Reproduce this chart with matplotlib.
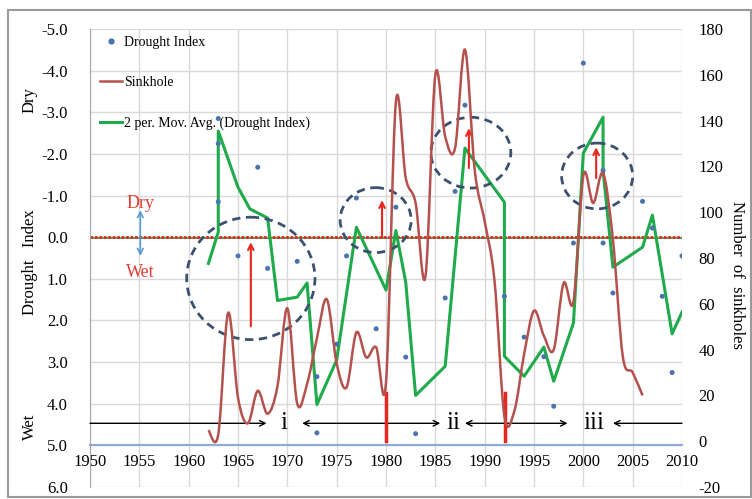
import numpy as np
import matplotlib.pyplot as plt
from matplotlib.patches import Ellipse, Rectangle, PathPatch
from matplotlib.path import Path
from matplotlib.lines import Line2D

plt.rcParams['font.family'] = ['Liberation Serif', 'DejaVu Serif']

# drought index values (scatter points)
di_years = [1963, 1963, 1963, 1965, 1967, 1968, 1971, 1973, 1973, 1975, 1976, 1977,
            1979, 1981, 1982, 1983, 1986, 1987, 1988, 1992, 1994, 1996, 1997, 1999,
            2000, 2002, 2002, 2003, 2006, 2007, 2008, 2009, 2010]
di_values = [-2.85, -2.25, -0.85, 0.45, -1.68, 0.75, 0.58, 3.35, 4.7, 2.57, 0.45, -0.94,
             2.2, -0.72, 2.88, 4.72, 1.46, -1.1, -3.17, 1.42, 2.4, 2.87, 4.06, 0.14,
             -4.18, 0.14, -1.6, 1.34, -0.86, -0.22, 1.42, 3.25, 0.45]

# 2 period moving average as drawn
ma_years = [1962, 1963, 1963, 1965, 1966.2, 1968, 1969, 1971, 1972, 1973, 1975, 1977,
            1980, 1981, 1982, 1983, 1986, 1988, 1992, 1992, 1994, 1996, 1997, 1999,
            2000, 2002, 2002, 2003, 2006, 2007, 2009, 2010]
ma_values = [0.63, -0.12, -2.55, -1.2, -0.68, -0.46, 1.52, 1.44, 1.1, 4.02, 2.95, -0.24,
             1.27, -0.16, 1.08, 3.8, 3.1, -2.14, -0.84, 2.86, 3.34, 2.64, 3.46, 2.06,
             -2.02, -2.88, -1.6, 0.72, 0.24, -0.53, 2.32, 1.8]

# number of sinkholes per year
sink_years = list(range(1962, 2007))
sink_counts = [4.8, 3, 56, 19, 7.8, 22, 12, 24, 58, 16.5, 25, 45, 62, 34, 23.5, 47.5,
               36.6, 41, 25.7, 148, 115, 104, 72, 160, 133, 128, 171, 118, 96, 70, 11,
               13, 38, 57, 46, 40, 69, 61, 116, 104, 117, 88, 37, 30, 20]

left_ticks = np.arange(-5, 7, 1)
right_ticks = np.arange(-20, 181, 20)
year_ticks = np.arange(1950, 2011, 5)

RED = '#e8261e'
GREEN = '#1faa4b'
SINK = '#b5514d'
DOT = '#4a74b0'
ELL = '#3c5170'


def smooth_path(xs, ys):
    # smoothed line like excel (catmull-rom as bezier curves)
    pts = np.column_stack([xs, ys]).astype(float)
    p = np.vstack([pts[0], pts, pts[-1]])
    verts = [pts[0]]
    codes = [Path.MOVETO]
    for i in range(1, len(p) - 2):
        c1 = p[i] + (p[i + 1] - p[i - 1]) / 6
        c2 = p[i + 1] - (p[i + 2] - p[i]) / 6
        verts += [c1, c2, p[i + 1]]
        codes += [Path.CURVE4] * 3
    return Path(verts, codes)


fig = plt.figure(figsize=(7.52, 4.99), dpi=100)
ax = fig.add_axes([90 / 752, 12 / 499, 592 / 752, 458 / 499])

# x axis crosses at 5.0 (set before the ticks, it resets them)
ax.spines['bottom'].set_position(('data', 5.0))
ax.spines['bottom'].set_color('#8eaadb')
ax.spines['bottom'].set_linewidth(1.5)
ax.spines['left'].set_color('#a6a6a6')
ax.spines['top'].set_visible(False)
ax.spines['right'].set_visible(False)

ax.set_xlim(1950, 2010)
ax.set_ylim(6, -5)
ax.set_xticks(year_ticks)
ax.set_xticklabels([str(y) for y in year_ticks])
ax.set_yticks(left_ticks)
ax.set_yticklabels([f'{v:.1f}' for v in left_ticks])
ax.grid(color='#d9d9d9', lw=1)
ax.set_axisbelow(True)
ax.tick_params(length=0, labelsize=12)
ax.tick_params(axis='y', pad=16)
ax.tick_params(axis='x', pad=6)

# zero line
ax.axhline(0.03, color=GREEN, lw=1.2, zorder=2)
ax.axhline(0, color=RED, lw=2, ls=(0, (1, 0.6)), zorder=2)

ax.plot(ma_years, ma_values, color=GREEN, lw=2.2, zorder=3)
ax.scatter(di_years, di_values, s=13, color=DOT, zorder=4, edgecolors='none')

ax2 = ax.twinx()
ax2.set_ylim(-20, 180)
ax2.set_yticks(right_ticks)
ax2.set_yticklabels([str(v) for v in right_ticks])
ax2.tick_params(length=0, pad=12, labelsize=12)
for s in ax2.spines.values():
    s.set_visible(False)

ax2.add_patch(PathPatch(smooth_path(sink_years, sink_counts), fill=False,
                        edgecolor=SINK, lw=1.8, zorder=3))

# red markers at 1980 and 1992
ax2.plot([1980, 1980], [0, 21], color=RED, lw=2.5)
ax2.plot([1992.1, 1992.1], [0, 21], color=RED, lw=2.5)

# dashed ellipses
for cx, cy, w, h in [(1966.3, 0.99, 13.0, 2.94), (1978.95, -0.41, 7.2, 1.56),
                     (1988.6, -2.03, 8.1, 1.7), (2001.4, -1.47, 7.2, 1.58)]:
    ax.add_patch(Ellipse((cx, cy), w, h, fill=False, ec=ELL, lw=2,
                         ls=(0, (3, 2)), zorder=5))

# red up arrows
for x, y0, y1 in [(1966.3, 2.14, 0.12), (1979.6, 0.0, -0.89),
                  (1988.4, -1.66, -2.62), (2001.3, -1.42, -2.16)]:
    ax.annotate('', xy=(x, y1), xytext=(x, y0),
                arrowprops=dict(arrowstyle='->', color=RED, lw=1.5,
                                shrinkA=0, shrinkB=0), zorder=6)

# period arrows
for x0, x1 in [(1950, 1967.9), (1980, 1971.5), (1980, 1985.5),
               (1992.1, 1988), (1992.1, 1998.4), (2010, 2003)]:
    ax.annotate('', xy=(x1, 4.47), xytext=(x0, 4.47),
                arrowprops=dict(arrowstyle='->', color='black', lw=1,
                                shrinkA=0, shrinkB=0), zorder=6)
for x, t in [(1969.7, 'i'), (1986.8, 'ii'), (2001.1, 'iii')]:
    ax.text(x, 4.47, t, fontsize=18, ha='center', va='center', zorder=6)

# dry / wet marker
ax.text(1955.1, -0.82, 'Dry', color='#e03c31', fontsize=13, ha='center', va='center')
ax.text(1955.1, 0.84, 'Wet', color='#e03c31', fontsize=13, ha='center', va='center')
ax.annotate('', xy=(1955.1, -0.65), xytext=(1955.1, 0.45),
            arrowprops=dict(arrowstyle='<->', color='#5b9bd5', lw=1.2,
                            shrinkA=0, shrinkB=0))

handles = [Line2D([], [], ls='', marker='o', ms=3.5, color=DOT),
           Line2D([], [], color=SINK, lw=1.8),
           Line2D([], [], color=GREEN, lw=2.2)]
labels = ['Drought Index', 'Sinkhole', '2 per. Mov. Avg. (Drought Index)']
ax2.legend(handles, labels, loc='upper left', bbox_to_anchor=(0.0, 1.006),
           frameon=False, fontsize=10, labelspacing=1.95, handlelength=1.6,
           handletextpad=0.15, borderaxespad=0.3)

fig.text(30 / 752, 1 - 100 / 499, 'Dry', rotation=90, ha='center', va='center', fontsize=12)
fig.text(30 / 752, 1 - 262 / 499, 'Drought   Index', rotation=90, ha='center',
         va='center', fontsize=12)
fig.text(30 / 752, 1 - 427 / 499, 'Wet', rotation=90, ha='center', va='center', fontsize=12)
fig.text(737 / 752, 1 - 275 / 499, 'Number  of  sinkholes', rotation=270,
         ha='center', va='center', fontsize=12)

fig.patches.append(Rectangle((8 / 752, 2 / 499), 743 / 752, 487 / 499, fill=False,
                             ec='#9a9a9a', lw=1.5, transform=fig.transFigure))

fig.savefig('out.png', dpi=100)
